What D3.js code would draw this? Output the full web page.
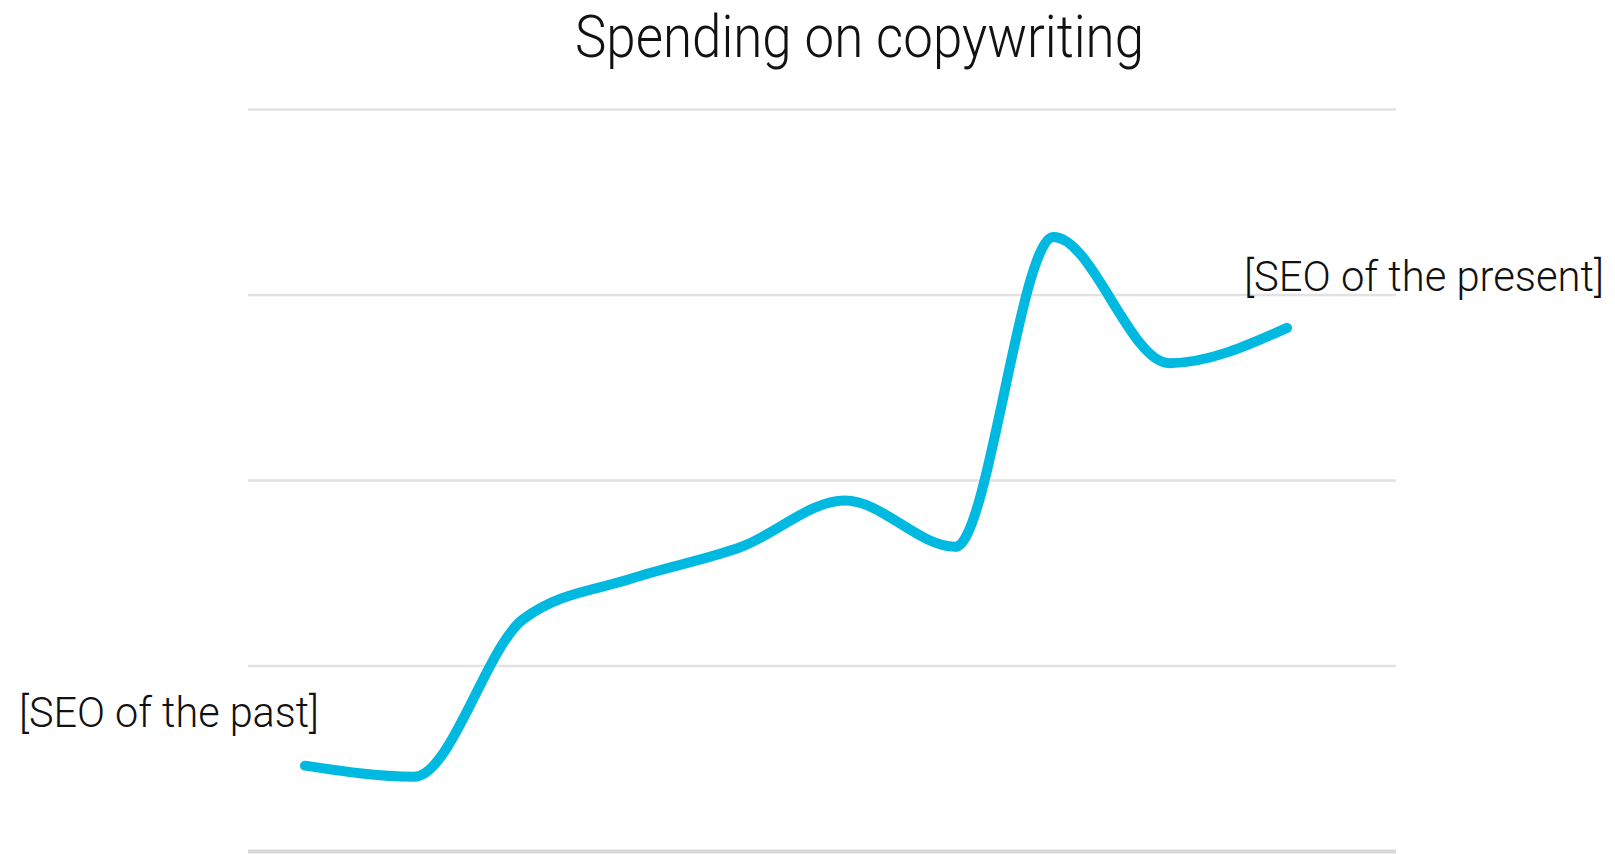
<!DOCTYPE html>
<html>
<head>
<meta charset="utf-8">
<script src="https://cdn.jsdelivr.net/npm/d3@7"></script>
<style>
  html, body { margin: 0; padding: 0; background: #ffffff; }
  svg { display: block; }
  text { font-family: Roboto, "Open Sans", sans-serif; font-weight: 300; fill: #111111; }
</style>
</head>
<body>
<svg id="chart" width="1615" height="854"></svg>
<script>
// Spending on copywriting over time (relative units)
const periods  = [0, 1, 2, 3, 4, 4.95, 5.96, 6.86, 7.92, 9];
const spending = [0.46, 0.40, 1.25, 1.47, 1.64, 1.89, 1.64, 3.31, 2.63, 2.82];
const gridValues = [0, 1, 2, 3, 4];
const titleText = "Spending on copywriting";
const startLabel = "[SEO of the past]";
const endLabel = "[SEO of the present]";

const svg = d3.select("#chart");

const x = d3.scaleLinear().domain([0, 9]).range([305, 1287]);
const y = d3.scaleLinear().domain([0, 4]).range([851, 109]);

// horizontal grid
const grid = d3.axisLeft(y)
  .tickValues(gridValues)
  .tickSize(-(1396 - 248))
  .tickFormat("");
const gridG = svg.append("g")
  .attr("transform", "translate(248,0)")
  .call(grid);
gridG.select(".domain").remove();
gridG.selectAll(".tick line")
  .attr("stroke", d => d === 0 ? "#d9d9d9" : "#e2e2e2")
  .attr("stroke-width", d => d === 0 ? 4 : 2.5);

// title
svg.append("text")
  .attr("x", 575)
  .attr("y", 57)
  .attr("font-size", 59)
  .attr("textLength", 569)
  .attr("lengthAdjust", "spacingAndGlyphs")
  .text(titleText);

// spending line
const line = d3.line()
  .x((d, i) => x(periods[i]))
  .y(d => y(d))
  .curve(d3.curveMonotoneX);

svg.append("path")
  .datum(spending)
  .attr("d", line)
  .attr("fill", "none")
  .attr("stroke", "#00b9e1")
  .attr("stroke-width", 10)
  .attr("stroke-linecap", "round")
  .attr("stroke-linejoin", "round");

// end labels
svg.append("text")
  .attr("x", 19)
  .attr("y", 727)
  .attr("font-size", 42)
  .attr("textLength", 300)
  .attr("lengthAdjust", "spacingAndGlyphs")
  .text(startLabel);

svg.append("text")
  .attr("x", 1244)
  .attr("y", 291)
  .attr("font-size", 42)
  .attr("textLength", 360)
  .attr("lengthAdjust", "spacingAndGlyphs")
  .text(endLabel);
</script>
</body>
</html>
